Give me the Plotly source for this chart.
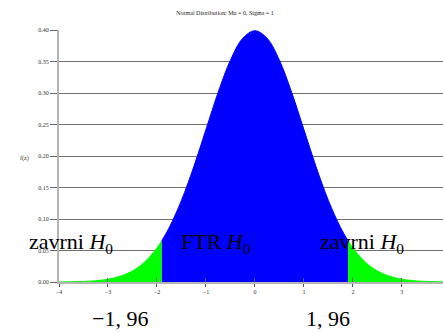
import plotly.graph_objects as go

# Values (standard normal density)
x_vals = [-4.0, -3.75, -3.5, -3.25, -3.0, -2.75, -2.5, -2.25, -2.0, -1.9,
          -1.75, -1.5, -1.25, -1.0, -0.75, -0.5, -0.25, 0.0,
          0.25, 0.5, 0.75, 1.0, 1.25, 1.5, 1.75, 1.9,
          2.0, 2.25, 2.5, 2.75, 3.0, 3.25, 3.5, 3.75, 4.0]
f_vals = [0.0001, 0.0004, 0.0009, 0.0020, 0.0044, 0.0091, 0.0175, 0.0317, 0.0540, 0.0656,
          0.0863, 0.1295, 0.1826, 0.2420, 0.3011, 0.3521, 0.3867, 0.3989,
          0.3867, 0.3521, 0.3011, 0.2420, 0.1826, 0.1295, 0.0863, 0.0656,
          0.0540, 0.0317, 0.0175, 0.0091, 0.0044, 0.0020, 0.0009, 0.0004, 0.0001]
crit = 1.9
x_ticks = [-4, -3, -2, -1, 0, 1, 2, 3]
y_ticks = [0.0, 0.05, 0.10, 0.15, 0.20, 0.25, 0.30, 0.35, 0.40]
y_ticktext = ["0.00", "0.05", "0.10", "0.15", "0.20", "0.25", "0.30", "0.35", "0.40"]
title_text = "Normal Distribution: Mu = 0, Sigma = 1"

left = [(x, y) for x, y in zip(x_vals, f_vals) if x <= -crit]
mid = [(x, y) for x, y in zip(x_vals, f_vals) if -crit <= x <= crit]
right = [(x, y) for x, y in zip(x_vals, f_vals) if x >= crit]

fig = go.Figure()
for seg, col in [(left, "#00ff00"), (mid, "#0000ff"), (right, "#00ff00")]:
    fig.add_trace(go.Scatter(
        x=[p[0] for p in seg], y=[p[1] for p in seg],
        mode="lines", line=dict(color=col, width=1, shape="spline"),
        fill="tozeroy", fillcolor=col, showlegend=False, hoverinfo="skip"))

# invisible trace on overlay axis for crossing ticks
fig.add_trace(go.Scatter(x=[-4], y=[0], xaxis="x2", mode="markers",
                         marker=dict(opacity=0), showlegend=False, hoverinfo="skip"))

serif = "Liberation Serif, Times New Roman, serif"
xr = [-4, 3.84]
W, H = 443, 332
L, R, T, B = 59, 0, 30, 50
PW, PH = W - L - R, H - T - B
fig.update_layout(
    width=W, height=H, autosize=False,
    margin=dict(l=L, r=R, t=T, b=B),
    paper_bgcolor="white", plot_bgcolor="white",
    font=dict(family=serif, color="#333333", size=6),
    title=dict(text=title_text, x=225 / W, xanchor="center",
               y=1 - 13 / H, yanchor="middle",
               font=dict(family=serif, size=6, color="#222222")),
    xaxis=dict(range=xr, tickvals=x_ticks, ticks="outside", ticklen=3,
               tickcolor="#555555", showline=True, linecolor="#b4b4b4", linewidth=2,
               showgrid=False, zeroline=False, tickfont=dict(size=6, family=serif)),
    xaxis2=dict(range=xr, overlaying="x", side="bottom", tickvals=x_ticks,
                ticks="inside", ticklen=4, tickcolor="#555555", showticklabels=False,
                showline=False, showgrid=False, zeroline=False),
    yaxis=dict(range=[0, 0.40], tickvals=y_ticks, ticktext=y_ticktext,
               ticks="outside", ticklen=7, tickcolor="#666666",
               showline=True, linecolor="#b4b4b4", linewidth=2,
               showgrid=True, gridcolor="#707070", gridwidth=1, zeroline=False,
               tickfont=dict(size=6, family=serif)),
)

big = dict(family=serif, size=22, color="black")
H0 = "<i>H</i><sub>0</sub>"
ann = [
    (-3.76, 0.062, "zavrni " + H0),
    (-0.80, 0.062, "FTR " + H0),
    (2.18, 0.062, "zavrni " + H0),
]
for ax, ay, t in ann:
    fig.add_annotation(x=ax, y=ay, xref="x", yref="y", text=t, showarrow=False,
                       font=big, xanchor="center", yanchor="middle")
# critical value labels below the axis (pixel positions converted to paper)
for px, t in [(120, "−1, 96"), (328, "1, 96")]:
    fig.add_annotation(x=(px - L) / PW, y=-(318 - (H - B)) / PH, xref="paper", yref="paper",
                       text=t, showarrow=False, font=big, xanchor="center", yanchor="middle")
fig.add_annotation(x=(18 - L) / PW, y=((H - B) - 158) / PH, xref="paper", yref="paper",
                   text="f(z)", showarrow=False,
                   font=dict(family=serif, size=6, color="#333333"))

fig.write_html("out.html", config={"displayModeBar": False},
               post_script="document.body.style.margin='0';document.body.style.overflow='hidden';")
